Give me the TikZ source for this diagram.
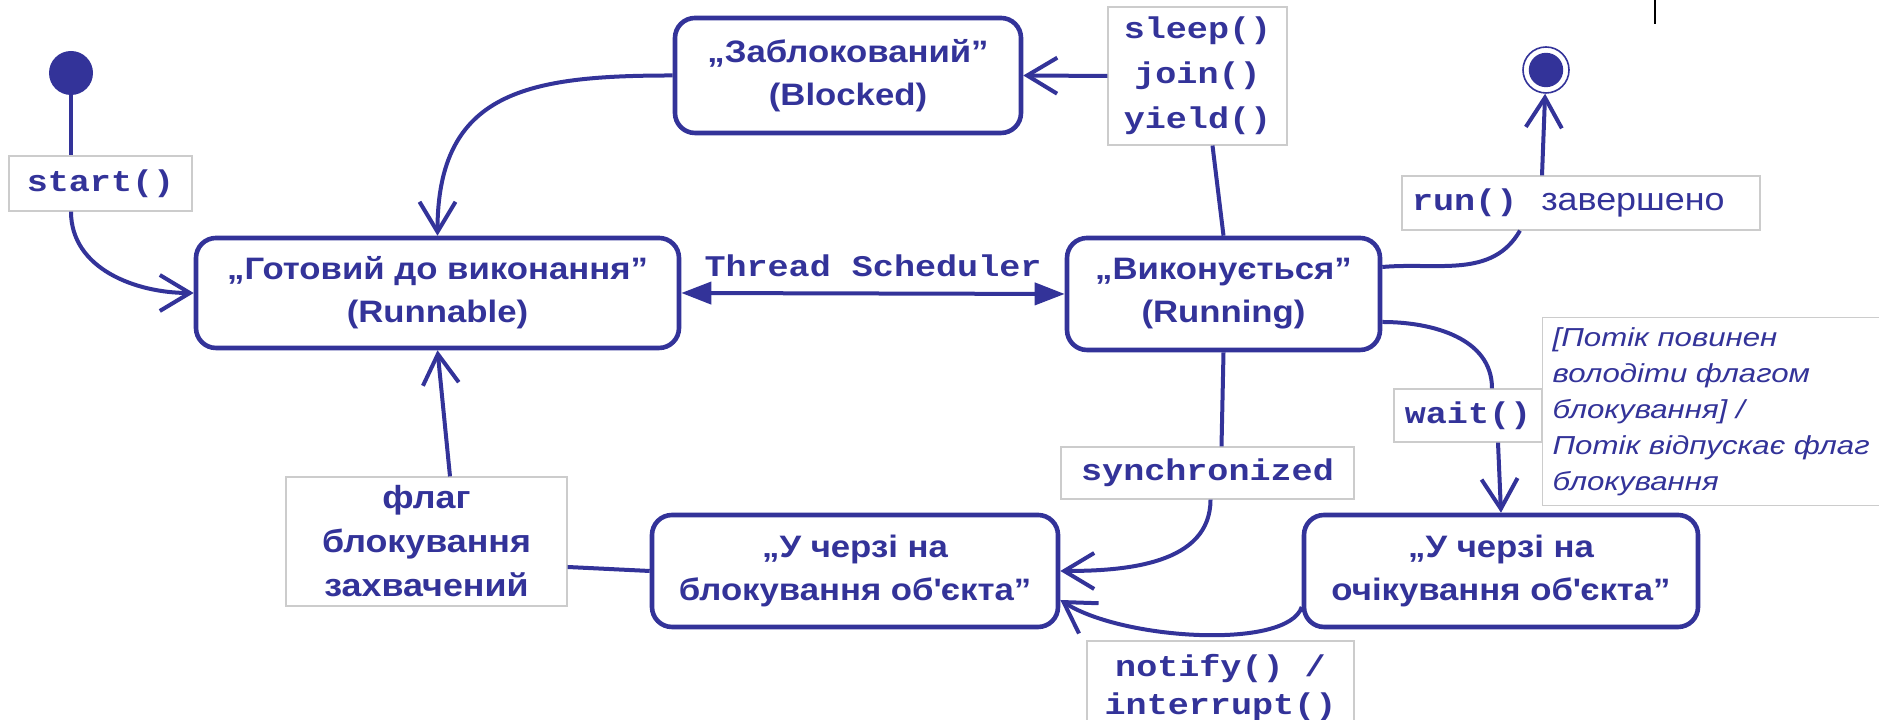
\documentclass[tikz,border=0pt]{standalone}
\usepackage{fontspec}
\setmainfont{Liberation Sans}
\newfontfamily\widesans{Liberation Sans}[FakeStretch=1.12]
\newfontfamily\guardsans{Liberation Sans}[FakeStretch=1.2]
\newfontfamily\codefont{Liberation Mono}[FakeStretch=1.17]
\usepackage{tikz}
\usetikzlibrary{calc,arrows.meta,positioning}
\definecolor{StBlue}{HTML}{333399}
\definecolor{LblFrame}{HTML}{CCCCCC}
\newcommand{\stfont}{\widesans\bfseries\fontsize{15.5}{21.5}\selectfont}
\newcommand{\codetxt}{\codefont\bfseries\fontsize{15}{22.5}\selectfont}
\newcommand{\guardtxt}{\guardsans\itshape\fontsize{13}{18}\selectfont}

\begin{document}
\begin{tikzpicture}[x=50pt, y=50pt,
  stbox/.style={draw=StBlue, line width=2.3pt, rounded corners=10pt, fill=white,
                text=StBlue, align=center, inner sep=0pt, font=\stfont},
  lbl/.style={draw=LblFrame, line width=0.6pt, fill=white, text=StBlue,
              align=center, inner sep=0pt, font=\codetxt},
  trans/.style={StBlue, line width=2pt},
  >={Straight Barb[length=15pt,width=18pt]}]
  \useasboundingbox (0,0) rectangle (18.79,7.20);
  % states
  \node[circle, fill=StBlue, minimum size=22pt, inner sep=0pt] (init) at (0.71,6.47) {};
  \node[stbox, minimum width=241.5pt, minimum height=55pt] (ready) at (4.375,4.27)
    {„Готовий до виконання”\\(Runnable)};
  \node[stbox, minimum width=173pt, minimum height=57.5pt] (blocked) at (8.48,6.445)
    {„Заблокований”\\(Blocked)};
  \node[stbox, minimum width=156.5pt, minimum height=56pt] (running) at (12.235,4.26)
    {„Виконується”\\(Running)};
  \node[stbox, minimum width=203pt, minimum height=56pt] (lock) at (8.55,1.49)
    {„У черзі на\\блокування об\textquotesingle{}єкта”};
  \node[stbox, minimum width=197pt, minimum height=56pt] (waiting) at (15.01,1.49)
    {„У черзі на\\очікування об\textquotesingle{}єкта”};
  \node[circle, draw=StBlue, line width=0.8pt, fill=white, minimum size=23pt, inner sep=0pt,
        path picture={\fill[StBlue] (path picture bounding box.center) circle (8.6pt);}]
    (final) at (15.46,6.50) {};
  % transition labels
  \node[lbl, minimum width=91.5pt, minimum height=27.5pt] (startLbl) at (1.005,5.365) {start()};
  \node[lbl, minimum width=89.5pt, minimum height=69pt] (sleepLbl) at (11.975,6.44)
    {sleep()\\join()\\yield()};
  \node[lbl, align=left, text width=169pt, inner xsep=5pt, minimum height=27pt] (runLbl)
    at (15.81,5.17) {run()\hspace{12pt}{\widesans\mdseries\fontsize{16}{18}\selectfont завершено}};
  \node[lbl, minimum width=74pt, minimum height=26.5pt] (waitLbl) at (14.68,3.045) {wait()};
  \node[lbl, font=\guardtxt, align=left, anchor=north west, text width=164pt,
        inner xsep=5pt, minimum height=94pt] (guardLbl) at (15.42,4.03)
    {[Потік повинен\\володіти флагом\\блокування] /\\Потік відпускає флаг\\блокування};
  \node[lbl, minimum width=146.5pt, minimum height=26pt] (syncLbl) at (12.075,2.47) {synchronized};
  \node[lbl, font=\codefont\bfseries\fontsize{15}{19}\selectfont, minimum width=133.5pt,
        minimum height=47pt] (notifyLbl) at (12.205,0.32) {notify() /\\interrupt()};
  \node[lbl, font=\widesans\bfseries\fontsize{16}{22}\selectfont, minimum width=140.5pt,
        minimum height=64.5pt] (flagLbl) at (4.265,1.785) {флаг\\блокування\\захвачений};
  % transitions
  \draw[trans] (init) -- (init |- startLbl.north);
  \draw[trans,->] (init |- startLbl.south) to[out=-90,in=180] (ready.west);
  \draw[trans,->] (blocked.west) to[out=180,in=90,looseness=1.3] (ready.north);
  \draw[trans,->] (sleepLbl.west) -- (blocked.east);
  \draw[trans] (running.north) -- ($(sleepLbl.south)+(0.15,0)$);
  \draw[trans,{Triangle[length=15pt,width=11pt]}-{Triangle[length=15pt,width=11pt]}]
    (ready.east) -- node[above=4pt, font=\codetxt, text=StBlue] (schedLbl) {Thread Scheduler} (running.west);
  \draw[trans] ([yshift=13.5pt]running.east) to[out=5,in=-120] ($(runLbl.south)+(-0.61,0)$);
  \draw[trans,->] ($(runLbl.north)+(-0.39,0)$) -- (final);
  \draw[trans] ([yshift=-14pt]running.east) to[out=0,in=90] ($(waitLbl.north)+(0.24,0)$);
  \draw[trans,->] ($(waitLbl.south)+(0.3,0)$) -- (waiting.north);
  \draw[trans] (running.south) -- ($(syncLbl.north)+(0.14,0)$);
  \draw[trans,->] ($(syncLbl.south)+(0.03,0)$) to[out=-90,in=0] (lock.east);
  \draw[trans,->] ([yshift=-18pt]waiting.west) .. controls +(-0.14,-0.43) and +(0.62,-0.4)
    .. ([yshift=-14.5pt]lock.east);
  \draw[trans] (lock.west) -- ([yshift=-12.75pt]flagLbl.east);
  \draw[trans,->] ($(flagLbl.north)+(0.235,0)$) -- (ready.south);
  % mark at the top edge
  \draw[black, line width=1pt] (16.55,7.2) -- (16.55,6.96);
\end{tikzpicture}
\end{document}
